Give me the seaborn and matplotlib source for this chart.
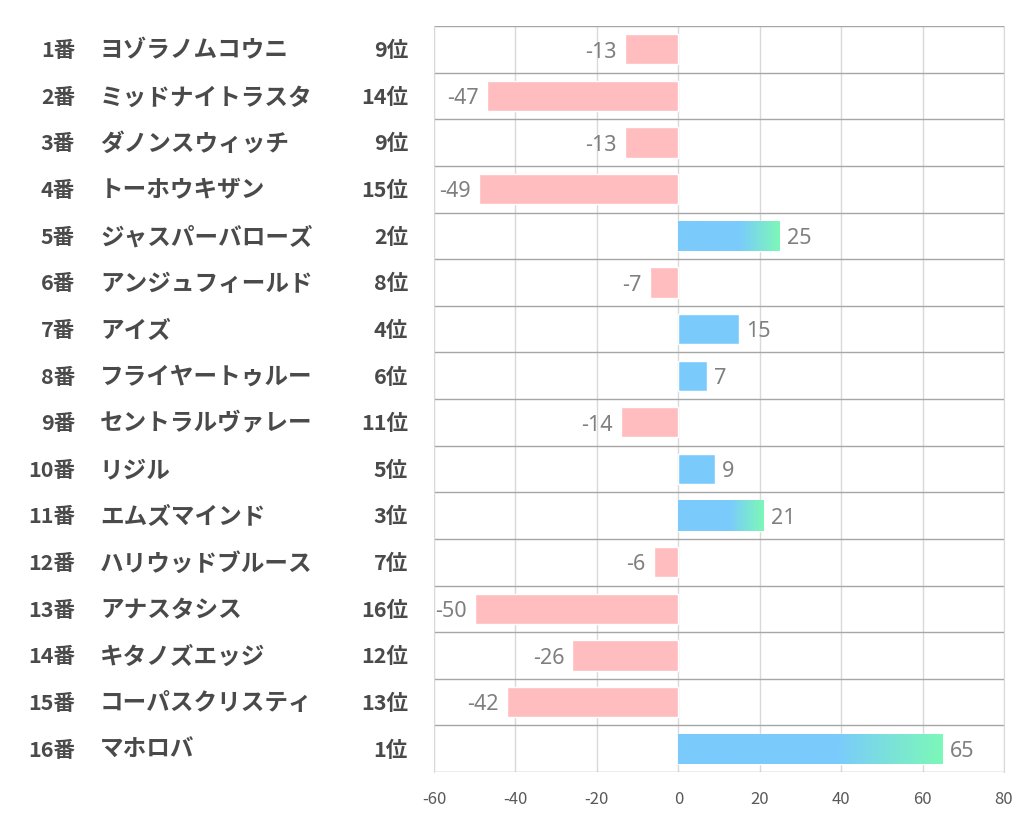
import numpy as np
import pandas as pd
import matplotlib
matplotlib.use('Agg')
import matplotlib.pyplot as plt
import seaborn as sns
from matplotlib.colors import LinearSegmentedColormap
from matplotlib.transforms import blended_transform_factory

# data
numbers = ['1番', '2番', '3番', '4番', '5番', '6番', '7番', '8番',
           '9番', '10番', '11番', '12番', '13番', '14番', '15番', '16番']
names = ['ヨゾラノムコウニ', 'ミッドナイトラスタ', 'ダノンスウィッチ', 'トーホウキザン',
         'ジャスパーバローズ', 'アンジュフィールド', 'アイズ', 'フライヤートゥルー',
         'セントラルヴァレー', 'リジル', 'エムズマインド', 'ハリウッドブルース',
         'アナスタシス', 'キタノズエッジ', 'コーパスクリスティ', 'マホロバ']
ranks = ['9位', '14位', '9位', '15位', '2位', '8位', '4位', '6位',
         '11位', '5位', '3位', '7位', '16位', '12位', '13位', '1位']
values = [-13, -47, -13, -49, 25, -7, 15, 7, -14, 9, 21, -6, -50, -26, -42, 65]

pink = '#FFBDC0'
blue = '#7ACBFC'
green = '#7CF8B8'
text_col = '#4a4a4a'

sns.set_style('white')
plt.rcParams['font.family'] = ['Noto Sans CJK JP', 'DejaVu Sans']
plt.rcParams['axes.unicode_minus'] = False

df = pd.DataFrame({'name': names, 'value': values})
df['sign'] = np.where(df['value'] >= 0, 'pos', 'neg')

fig = plt.figure(figsize=(10.22, 8.34), dpi=100)
ax = fig.add_axes([0.4247, 0.0743, 0.5577, 0.8945])

sns.barplot(data=df, x='value', y='name', hue='sign',
            palette={'pos': blue, 'neg': pink}, dodge=False,
            width=0.65, saturation=1, legend=False, ax=ax, zorder=2)

# gradient fade to green on the longer positive bars
cmap = LinearSegmentedColormap.from_list('bg', [(0, blue), (0.6, blue), (1, green)])
grad = np.linspace(0, 1, 256).reshape(1, -1)
for p in list(ax.patches):
    w = p.get_width()
    if w >= 20:
        im = ax.imshow(grad, cmap=cmap, aspect='auto', interpolation='bilinear',
                       extent=[p.get_x(), p.get_x() + w,
                               p.get_y() + p.get_height(), p.get_y()],
                       zorder=3)
        im.set_clip_path(p)

# value labels
for i, v in enumerate(values):
    off = 5 if v >= 0 else -6
    ax.annotate(str(v), (v, i), xytext=(off, -2), textcoords='offset points',
                ha='left' if v >= 0 else 'right', va='center',
                fontsize=15.5, color='#7f7f7f', family=['Noto Sans', 'DejaVu Sans'])

ax.set_xlim(-60, 80)
ax.set_ylim(len(values) - 0.5, -0.5)
ax.set_xticks(range(-60, 81, 20))
ax.xaxis.grid(True, color='#d9d9d9', lw=1, zorder=0)
ax.set_axisbelow(True)
for i in range(len(values) + 1):
    ax.axhline(i - 0.5, color='#a6a6a6', lw=1, zorder=1)
for s in ['top', 'bottom']:
    ax.spines[s].set_visible(False)
for s in ['left', 'right']:
    ax.spines[s].set_color('#d9d9d9')
ax.set_yticks([])
ax.set_xlabel('')
ax.set_ylabel('')
ax.tick_params(axis='x', length=0, pad=14, labelsize=12, labelcolor='#595959')

# left side table columns
tr = blended_transform_factory(fig.transFigure, ax.transData)
for i in range(len(values)):
    fig.text(0.0734, i + 0.03, numbers[i], transform=tr, ha='right', va='center',
             fontsize=15.5, fontweight='bold', color=text_col)
    fig.text(0.0978, i + 0.03, names[i], transform=tr, ha='left', va='center',
             fontsize=17, fontweight='bold', color=text_col)
    fig.text(0.3992, i + 0.03, ranks[i], transform=tr, ha='right', va='center',
             fontsize=15.5, fontweight='bold', color=text_col)

fig.savefig('out.png', dpi=100, facecolor='white')
